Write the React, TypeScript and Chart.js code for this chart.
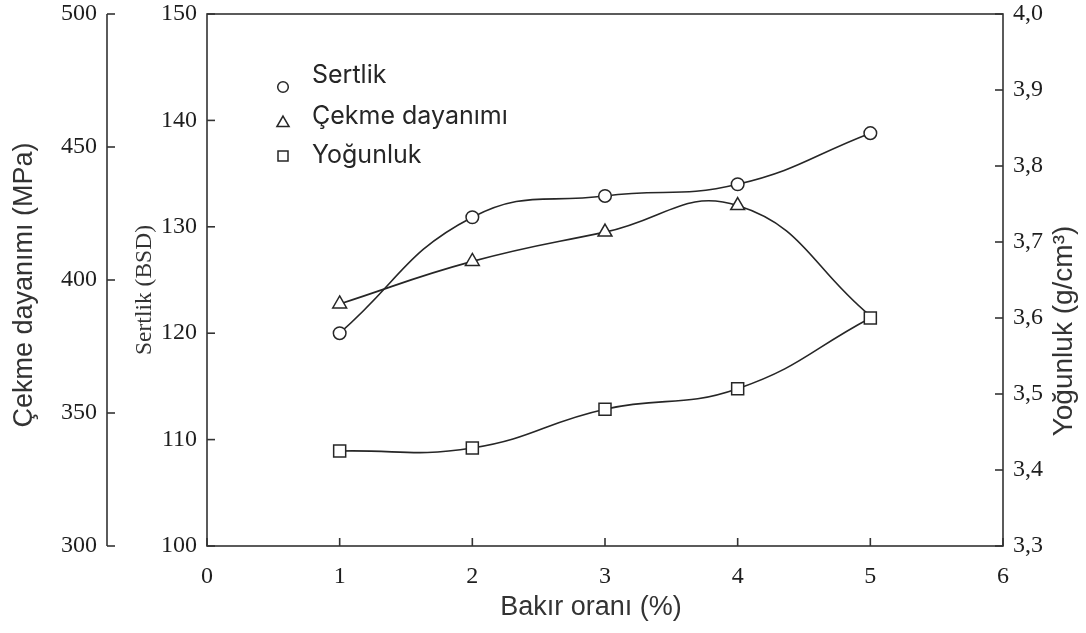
import React, { useEffect, useRef } from 'react';
import { Chart, registerables } from 'chart.js';

Chart.register(...registerables);

// ---- data ----
const bakirOrani = [1, 2, 3, 4, 5];
const sertlik = [120.0, 130.9, 132.9, 134.0, 138.8];
const cekmeDayanimi = [391, 407, 418, 428, 386.5];
const yogunluk = [3.425, 3.429, 3.48, 3.507, 3.6];
const cekmeMarkerShown = [true, true, true, true, false];

const legendLabels = ['Sertlik', 'Çekme dayanımı', 'Yoğunluk'];
const xTitle = 'Bakır oranı (%)';
const sertlikTitle = 'Sertlik (BSD)';
const cekmeTitle = 'Çekme dayanımı (MPa)';
const yogunlukTitle = 'Yoğunluk (g/cm³)';

const xRange = { min: 0, max: 6, step: 1 };
const sertlikRange = { min: 100, max: 150, step: 10 };
const cekmeRange = { min: 300, max: 500, step: 50 };
const yogunlukRange = { min: 3.3, max: 4.0, step: 0.1 };

const INK = '#262626';
const FRAME = '#333333';
const TEXT = '#1e1e1e';
const TITLE = '#333333';
const SERIF = '"Liberation Serif", "Times New Roman", serif';
const SANS = '"Liberation Sans", Arial, sans-serif';
const LEGEND_FONT = 'Inter, "Noto Sans", sans-serif';

const tickFont = { family: SERIF, size: 24 };

function line(ctx: CanvasRenderingContext2D, x1: number, y1: number, x2: number, y2: number) {
  ctx.beginPath();
  ctx.moveTo(x1, y1);
  ctx.lineTo(x2, y2);
  ctx.stroke();
}

function fixSize(dim: 'width' | 'height', size: number) {
  return (s: any) => {
    s[dim] = size;
    s.paddingTop = 0;
    s.paddingBottom = 0;
    s.paddingLeft = 0;
    s.paddingRight = 0;
  };
}

const framePlugin = {
  id: 'frame',
  beforeDatasetsDraw(chart: any) {
    const { ctx, chartArea, scales } = chart;
    const { left, right, top, bottom } = chartArea;
    const tl = 8;
    ctx.save();
    ctx.strokeStyle = FRAME;
    ctx.lineWidth = 1.6;
    ctx.strokeRect(left, top, right - left, bottom - top);
    scales.x.ticks.forEach((t: any) => {
      const px = scales.x.getPixelForValue(t.value);
      line(ctx, px, bottom, px, bottom - tl);
    });
    scales.ySert.ticks.forEach((t: any) => {
      const py = scales.ySert.getPixelForValue(t.value);
      line(ctx, left, py, left + tl, py);
    });
    scales.yDens.ticks.forEach((t: any) => {
      const py = scales.yDens.getPixelForValue(t.value);
      line(ctx, right, py, right - tl, py);
    });
    const m = scales.yMPa;
    const mx = m.right;
    line(ctx, mx, m.getPixelForValue(cekmeRange.min), mx, m.getPixelForValue(cekmeRange.max));
    m.ticks.forEach((t: any) => {
      const py = m.getPixelForValue(t.value);
      line(ctx, mx, py, mx + tl, py);
    });
    ctx.restore();
  },
};

function drawMarker(ctx: CanvasRenderingContext2D, kind: string, x: number, y: number, r: number) {
  ctx.beginPath();
  if (kind === 'circle') {
    ctx.arc(x, y, r, 0, Math.PI * 2);
  } else if (kind === 'triangle') {
    const w = r * Math.sin(Math.PI / 3);
    ctx.moveTo(x, y - r);
    ctx.lineTo(x + w, y + r / 2);
    ctx.lineTo(x - w, y + r / 2);
    ctx.closePath();
  } else {
    ctx.rect(x - r, y - r, 2 * r, 2 * r);
  }
  ctx.fillStyle = '#ffffff';
  ctx.fill();
  ctx.stroke();
}

const legendPlugin = {
  id: 'customLegend',
  afterDatasetsDraw(chart: any) {
    const { ctx } = chart;
    const kinds = ['circle', 'triangle', 'rect'];
    const sizes = [5.3, 7, 5];
    const markerY = [87, 123, 156];
    const textY = [83, 124, 163];
    ctx.save();
    ctx.strokeStyle = INK;
    ctx.lineWidth = 1.5;
    legendLabels.forEach((lab, i) => {
      drawMarker(ctx, kinds[i], 283, markerY[i], sizes[i]);
      ctx.fillStyle = '#262626';
      ctx.font = `25px ${LEGEND_FONT}`;
      ctx.textAlign = 'left';
      ctx.textBaseline = 'alphabetic';
      ctx.fillText(lab, 312, textY[i]);
    });
    ctx.restore();
  },
};

const titlePlugin = {
  id: 'axisTitles',
  afterDraw(chart: any) {
    const { ctx } = chart;
    ctx.save();
    ctx.fillStyle = TITLE;
    ctx.textAlign = 'center';
    ctx.textBaseline = 'middle';
    const vert = (text: string, x: number, y: number, font: string) => {
      ctx.save();
      ctx.translate(x, y);
      ctx.rotate(-Math.PI / 2);
      ctx.font = font;
      ctx.fillText(text, 0, 0);
      ctx.restore();
    };
    vert(cekmeTitle, 25, 285, `27px ${SANS}`);
    vert(sertlikTitle, 145, 290, `23.5px ${SERIF}`);
    vert(yogunlukTitle, 1064, 331, `28px ${SANS}`);
    ctx.font = `27px ${SANS}`;
    ctx.fillText(xTitle, 591, 608);
    ctx.restore();
  },
};

export default function App() {
  const ref = useRef<HTMLCanvasElement | null>(null);

  useEffect(() => {
    document.body.style.margin = '0';
    const canvas = ref.current;
    if (!canvas) return;

    const toPts = (ys: number[]) => bakirOrani.map((x, i) => ({ x, y: ys[i] }));

    const common = {
      borderColor: INK,
      backgroundColor: '#ffffff',
      pointBackgroundColor: '#ffffff',
      pointBorderColor: INK,
      borderWidth: 1.6,
      pointBorderWidth: 1.5,
      tension: 0.45,
      fill: false,
    };

    const chart = new Chart(canvas, {
      type: 'line',
      data: {
        datasets: [
          {
            ...common,
            label: legendLabels[0],
            data: toPts(sertlik),
            yAxisID: 'ySert',
            pointStyle: 'circle',
            pointRadius: 6.3,
            order: 1,
          },
          {
            ...common,
            label: legendLabels[1],
            data: toPts(cekmeDayanimi),
            yAxisID: 'yMPa',
            pointStyle: 'triangle',
            pointRadius: cekmeMarkerShown.map((s) => (s ? 8 : 0)),
            order: 2,
          },
          {
            ...common,
            label: legendLabels[2],
            data: toPts(yogunluk),
            yAxisID: 'yDens',
            pointStyle: 'rect',
            pointRadius: 8.5,
            order: 0,
          },
        ],
      } as any,
      options: {
        animation: false,
        responsive: false,
        layout: { padding: { top: 14, left: 0, right: 0, bottom: 0 } },
        plugins: {
          legend: { display: false },
          tooltip: { enabled: false },
        },
        scales: {
          x: {
            type: 'linear',
            position: 'bottom',
            min: xRange.min,
            max: xRange.max,
            ticks: { stepSize: xRange.step, padding: 16, font: tickFont, color: TEXT },
            grid: { display: false, drawTicks: false },
            border: { display: false },
            afterFit: fixSize('height', 87),
          },
          ySert: {
            type: 'linear',
            position: 'left',
            weight: 1,
            min: sertlikRange.min,
            max: sertlikRange.max,
            ticks: { stepSize: sertlikRange.step, padding: 10, font: tickFont, color: TEXT },
            grid: { display: false, drawTicks: false },
            border: { display: false },
            afterFit: fixSize('width', 100),
          },
          yMPa: {
            type: 'linear',
            position: 'left',
            weight: 2,
            min: cekmeRange.min,
            max: cekmeRange.max,
            ticks: { stepSize: cekmeRange.step, padding: 10, font: tickFont, color: TEXT },
            grid: { display: false, drawTicks: false },
            border: { display: false },
            afterFit: fixSize('width', 107),
          },
          yDens: {
            type: 'linear',
            position: 'right',
            min: yogunlukRange.min,
            max: yogunlukRange.max,
            ticks: {
              stepSize: yogunlukRange.step,
              padding: 10,
              font: tickFont,
              color: TEXT,
              callback: (v: any) => Number(v).toFixed(1).replace('.', ','),
            },
            grid: { display: false, drawTicks: false },
            border: { display: false },
            afterFit: fixSize('width', 83),
          },
        },
      } as any,
      plugins: [framePlugin, legendPlugin, titlePlugin],
    });

    return () => {
      chart.destroy();
    };
  }, []);

  return (
    <canvas
      ref={ref}
      width={1086}
      height={633}
      style={{ display: 'block', width: '1086px', height: '633px' }}
    />
  );
}
